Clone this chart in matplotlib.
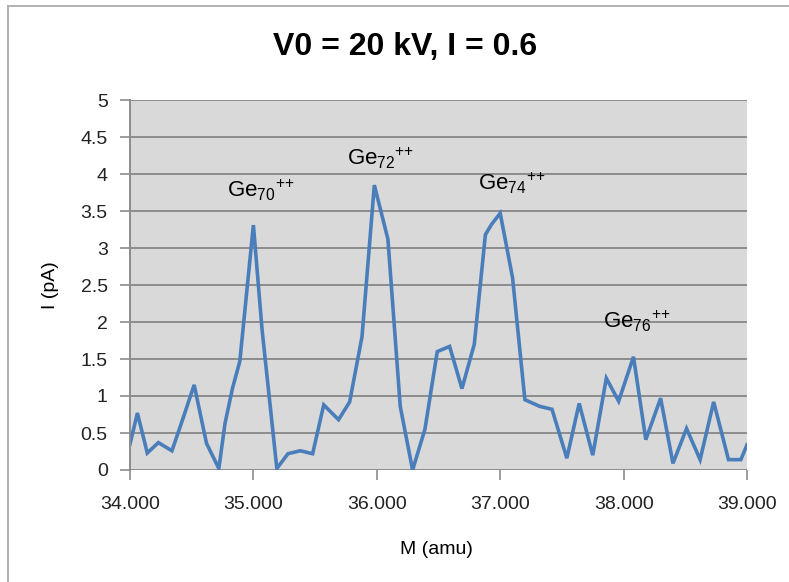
import matplotlib
matplotlib.use("Agg")
import matplotlib.pyplot as plt
from matplotlib.lines import Line2D

# mass (amu) and current (pA)
mass = [34.00, 34.06, 34.14, 34.23, 34.34, 34.43, 34.52, 34.62, 34.72, 34.77,
        34.83, 34.89, 35.00, 35.07, 35.19, 35.28, 35.38, 35.48, 35.57, 35.69,
        35.78, 35.88, 35.98, 36.09, 36.19, 36.29, 36.39, 36.49, 36.59, 36.69,
        36.79, 36.88, 36.93, 37.00, 37.10, 37.20, 37.32, 37.42, 37.54, 37.64,
        37.75, 37.86, 37.96, 38.08, 38.18, 38.30, 38.40, 38.51, 38.62, 38.73,
        38.85, 38.95, 39.00]
current = [0.35, 0.77, 0.23, 0.37, 0.26, 0.70, 1.15, 0.36, 0.02, 0.63,
           1.10, 1.47, 3.31, 1.90, 0.02, 0.22, 0.26, 0.22, 0.88, 0.68,
           0.92, 1.80, 3.85, 3.12, 0.86, 0.00, 0.55, 1.60, 1.67, 1.10,
           1.70, 3.18, 3.32, 3.47, 2.60, 0.95, 0.86, 0.82, 0.16, 0.90,
           0.20, 1.24, 0.93, 1.53, 0.41, 0.97, 0.09, 0.56, 0.14, 0.92,
           0.14, 0.14, 0.34]

# peak labels (left edge / baseline of the text)
peak_names = ["70", "72", "74", "76"]
peak_x = [34.79, 35.76, 36.82, 37.83]
peak_y = [3.68, 4.12, 3.78, 1.92]

xticks = [34, 35, 36, 37, 38, 39]
yticks = [0, 0.5, 1, 1.5, 2, 2.5, 3, 3.5, 4, 4.5, 5]

plt.rcParams['font.family'] = ['Liberation Sans', 'DejaVu Sans']
plt.rcParams['mathtext.fontset'] = 'custom'
plt.rcParams['mathtext.rm'] = 'Liberation Sans'
plt.rcParams['mathtext.it'] = 'Liberation Sans'

fig = plt.figure(figsize=(7.89, 5.82), dpi=100)
ax = fig.add_axes([130 / 789, 1 - 470 / 582, 617 / 789, 370 / 582])
ax.set_facecolor('#d9d9d9')

ax.plot(mass, current, color='#4a7ebb', lw=2.6, solid_joinstyle='miter')

ax.set_xlim(34, 39)
ax.set_ylim(0, 5)
ax.set_xticks(xticks)
ax.set_xticklabels(['%.3f' % v for v in xticks])
ax.set_yticks(yticks)
ax.set_yticklabels(['%g' % v for v in yticks])
ax.yaxis.grid(True, color='#8c8c8c', lw=1.4)
ax.set_axisbelow(True)

for s in ['top', 'right', 'bottom']:
    ax.spines[s].set_visible(False)
ax.spines['left'].set_color('#8c8c8c')
ax.spines['left'].set_linewidth(1.4)
ax.tick_params(axis='both', colors='#8c8c8c', length=7, width=1.2,
               labelcolor='#222222', labelsize=14)
ax.tick_params(axis='x', pad=12)
ax.tick_params(axis='y', pad=9)

for name, px, py in zip(peak_names, peak_x, peak_y):
    ax.text(px, py, r'Ge$_{\mathregular{%s}}{}^{\mathregular{{+}{+}}}$' % name,
            ha='left', va='baseline', fontsize=16, color='black')

fig.text(405 / 789, 1 - 47 / 582, 'V0 = 20 kV, I = 0.6', ha='center', va='center',
         fontsize=23, fontweight='bold')
fig.text(436 / 789, 1 - 550 / 582, 'M (amu)', ha='center', va='center', fontsize=14)
fig.text(50 / 789, 1 - 285 / 582, 'I (pA)', ha='center', va='center',
         fontsize=14, rotation=90)

# chart area border (top and left edges visible)
fig.add_artist(Line2D([8 / 789, 8 / 789], [0, 1 - 6 / 582], color='#a6a6a6',
                      lw=1.2, transform=fig.transFigure))
fig.add_artist(Line2D([8 / 789, 1], [1 - 6 / 582, 1 - 6 / 582], color='#a6a6a6',
                      lw=1.2, transform=fig.transFigure))

fig.savefig('out.png', dpi=100)
